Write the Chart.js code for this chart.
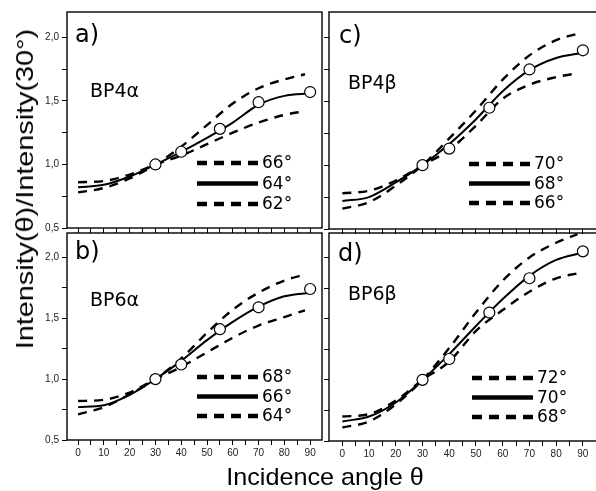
<!DOCTYPE html>
<html>
<head>
<meta charset="utf-8">
<script src="https://cdn.jsdelivr.net/npm/chart.js@4.4.0/dist/chart.umd.min.js"></script>
<style>
  body { margin: 0; background: #fff; overflow: hidden; }
  #lienzo { position: relative; width: 596px; height: 491px; overflow: hidden; background: #fff; }
  canvas { position: absolute; left: 0; top: 0; }
  .titulo { position: absolute; font-family: "Liberation Sans", Arial, sans-serif; font-size: 24px; color: #000; white-space: nowrap; line-height: 1; }
  #tituloY { left: 25px; top: 189px; transform: translate(-50%, -50%) rotate(-90deg) scaleX(1.2); }
  #tituloX { left: 325px; top: 477px; transform: translate(-50%, -50%) scaleX(1.05); }
</style>
</head>
<body>
<div id="lienzo">
  <canvas id="graficaA" width="604" height="491"></canvas>
  <canvas id="graficaB" width="604" height="491"></canvas>
  <canvas id="graficaC" width="604" height="491"></canvas>
  <canvas id="graficaD" width="604" height="491"></canvas>
  <div class="titulo" id="tituloY">Intensity(θ)/Intensity(30°)</div>
  <div class="titulo" id="tituloX">Incidence angle θ</div>
</div>
<script>
// Datos
const angulos = [0, 10, 20, 30, 40, 50, 60, 70, 80, 90];
const angulosDash = [0, 10, 20, 30, 40, 50, 60, 70, 80, 88];
const angulosMedidos = [30, 40, 55, 70, 90];
const ticksX = [0, 5, 10, 15, 20, 25, 30, 35, 40, 45, 50, 55, 60, 65, 70, 75, 80, 85, 90];
const ticksY = [0.5, 0.75, 1.0, 1.25, 1.5, 1.75, 2.0];

// a) BP4alpha
const ajusteA = [0.82, 0.84, 0.905, 1.0, 1.10, 1.21, 1.33, 1.47, 1.54, 1.56];
const arribaA = [0.78, 0.815, 0.89, 1.0, 1.14, 1.31, 1.48, 1.60, 1.67, 1.71];
const abajoA = [0.86, 0.87, 0.92, 1.0, 1.07, 1.16, 1.25, 1.33, 1.39, 1.42];
const medidosA = [1.0, 1.10, 1.28, 1.49, 1.57];
const leyendaA = ["66°", "64°", "62°"];

// b) BP6alpha
const ajusteB = [0.77, 0.785, 0.87, 1.0, 1.15, 1.32, 1.47, 1.595, 1.68, 1.71];
const arribaB = [0.71, 0.77, 0.875, 1.0, 1.17, 1.38, 1.57, 1.71, 1.81, 1.86];
const abajoB = [0.82, 0.83, 0.89, 1.0, 1.10, 1.22, 1.34, 1.44, 1.51, 1.565];
const medidosB = [1.0, 1.12, 1.41, 1.59, 1.74];
const leyendaB = ["68°", "66°", "64°"];

// c) BP4beta
const ajusteC = [0.72, 0.75, 0.865, 1.0, 1.165, 1.36, 1.58, 1.745, 1.84, 1.88];
const arribaC = [0.66, 0.71, 0.84, 1.0, 1.21, 1.43, 1.67, 1.86, 1.98, 2.03];
const abajoC = [0.78, 0.80, 0.88, 1.0, 1.12, 1.31, 1.52, 1.63, 1.69, 1.72];
const medidosC = [1.0, 1.13, 1.45, 1.75, 1.90];
const leyendaC = ["70°", "68°", "66°"];

// d) BP6beta
const ajusteD = [0.66, 0.70, 0.815, 1.0, 1.21, 1.44, 1.66, 1.85, 1.98, 2.04];
const arribaD = [0.61, 0.66, 0.80, 1.0, 1.26, 1.55, 1.81, 2.0, 2.12, 2.19];
const abajoD = [0.70, 0.72, 0.83, 1.0, 1.15, 1.40, 1.57, 1.72, 1.83, 1.87];
const medidosD = [1.0, 1.17, 1.55, 1.83, 2.05];
const leyendaD = ["72°", "70°", "68°"];

const ANCHO = 604;
const ALTO = 491;

function puntos(xs, ys) {
  return xs.map((x, i) => ({ x: x, y: ys[i] }));
}

function crearPanel(id, p) {
  const ctx = document.getElementById(id).getContext("2d");
  const anchoY = p.etiquetasY ? 30 : 8;
  const altoX = 22;

  // Marco, letras y leyenda dibujados encima
  const extras = {
    id: "extras",
    afterDatasetsDraw(chart) {
      const c = chart.ctx;
      const a = chart.chartArea;
      c.save();
      c.strokeStyle = "#000";
      c.lineWidth = 1.4;
      c.setLineDash([]);
      c.strokeRect(a.left, a.top, a.right - a.left, a.bottom - a.top);

      c.fillStyle = "#000";
      c.textBaseline = "alphabetic";
      c.font = "24px 'DejaVu Sans'";
      c.fillText(p.letra, p.letraX, p.letraY);
      c.font = "19px 'DejaVu Sans'";
      c.fillText(p.nombre, p.nombreX, p.nombreY);

      c.font = "17px 'DejaVu Sans'";
      c.textBaseline = "middle";
      c.lineWidth = 4.5;
      p.leyenda.forEach((txt, i) => {
        const y = p.leyY + i * p.leyPaso;
        c.setLineDash(i === 1 ? [] : [10, 7]);
        c.beginPath();
        c.moveTo(p.leyX, y);
        c.lineTo(p.leyX + 61, y);
        c.stroke();
        c.fillText(txt, p.leyX + 65, y + 1);
      });
      c.restore();
    },
  };

  const estiloDash = {
    borderColor: "#000",
    borderWidth: 2.4,
    borderDash: [9, 7],
    pointRadius: 0,
    fill: false,
    cubicInterpolationMode: "monotone",
    order: 2,
  };

  new Chart(ctx, {
    type: "line",
    data: {
      datasets: [
        {
          label: "medidos",
          data: puntos(angulosMedidos, p.medidos),
          showLine: false,
          pointRadius: 5.5,
          pointBackgroundColor: "#fff",
          pointBorderColor: "#000",
          pointBorderWidth: 1.2,
          order: 0,
        },
        {
          label: "ajuste",
          data: puntos(angulos, p.ajuste),
          borderColor: "#000",
          borderWidth: 2,
          pointRadius: 0,
          fill: false,
          cubicInterpolationMode: "monotone",
          order: 1,
        },
        Object.assign({ label: "arriba", data: puntos(angulosDash, p.arriba) }, estiloDash),
        Object.assign({ label: "abajo", data: puntos(angulosDash, p.abajo) }, estiloDash),
      ],
    },
    options: {
      responsive: false,
      animation: false,
      devicePixelRatio: 1,
      layout: {
        padding: {
          left: p.area.left - anchoY,
          top: p.area.top,
          right: ANCHO - p.area.right,
          bottom: ALTO - p.area.bottom - altoX,
        },
      },
      plugins: {
        legend: { display: false },
        tooltip: { enabled: false },
      },
      scales: {
        x: {
          type: "linear",
          min: p.xmin,
          max: p.xmax,
          afterBuildTicks: (s) => { s.ticks = ticksX.map((v) => ({ value: v })); },
          afterFit: (s) => { s.height = altoX; },
          ticks: {
            autoSkip: false,
            maxRotation: 0,
            padding: 2,
            color: "#222",
            font: { family: "Liberation Sans", size: 10 },
            callback: (v) => (p.etiquetasX && v % 10 === 0 ? String(v) : ""),
          },
          grid: { drawOnChartArea: false, tickLength: 5, color: "#000", lineWidth: 1 },
          border: { display: false },
        },
        y: {
          type: "linear",
          min: 0.5,
          max: 2.2,
          afterBuildTicks: (s) => { s.ticks = ticksY.map((v) => ({ value: v })); },
          afterFit: (s) => { s.width = anchoY; },
          ticks: {
            autoSkip: false,
            padding: 3,
            color: "#222",
            font: { family: "Liberation Sans", size: 10 },
            callback: (v) => {
              if (!p.etiquetasY) return "";
              return Math.abs(v * 2 - Math.round(v * 2)) < 1e-6 ? v.toFixed(1).replace(".", ",") : "";
            },
          },
          grid: { drawOnChartArea: false, tickLength: 5, color: "#000", lineWidth: 1 },
          border: { display: false },
        },
      },
    },
    plugins: [extras],
  });
}

crearPanel("graficaA", {
  area: { left: 67, top: 12, right: 322, bottom: 228 },
  xmin: -4.3, xmax: 94.6, etiquetasY: true, etiquetasX: false,
  ajuste: ajusteA, arriba: arribaA, abajo: abajoA, medidos: medidosA,
  letra: "a)", letraX: 75, letraY: 42,
  nombre: "BP4α", nombreX: 90, nombreY: 97,
  leyenda: leyendaA, leyX: 197, leyY: 163, leyPaso: 20.5,
});

crearPanel("graficaB", {
  area: { left: 67, top: 233, right: 322, bottom: 440 },
  xmin: -4.3, xmax: 94.6, etiquetasY: true, etiquetasX: true,
  ajuste: ajusteB, arriba: arribaB, abajo: abajoB, medidos: medidosB,
  letra: "b)", letraX: 75, letraY: 259,
  nombre: "BP6α", nombreX: 90, nombreY: 306,
  leyenda: leyendaB, leyX: 197, leyY: 377, leyPaso: 19.5,
});

crearPanel("graficaC", {
  area: { left: 329, top: 12, right: 600, bottom: 229 },
  xmin: -5.0, xmax: 95.4, etiquetasY: false, etiquetasX: false,
  ajuste: ajusteC, arriba: arribaC, abajo: abajoC, medidos: medidosC,
  letra: "c)", letraX: 339, letraY: 43,
  nombre: "BP4β", nombreX: 348, nombreY: 89,
  leyenda: leyendaC, leyX: 469, leyY: 164, leyPaso: 19.5,
});

crearPanel("graficaD", {
  area: { left: 329, top: 233, right: 600, bottom: 441 },
  xmin: -5.0, xmax: 95.4, etiquetasY: false, etiquetasX: true,
  ajuste: ajusteD, arriba: arribaD, abajo: abajoD, medidos: medidosD,
  letra: "d)", letraX: 338, letraY: 261,
  nombre: "BP6β", nombreX: 348, nombreY: 300,
  leyenda: leyendaD, leyX: 472, leyY: 378, leyPaso: 19.5,
});
</script>
</body>
</html>
